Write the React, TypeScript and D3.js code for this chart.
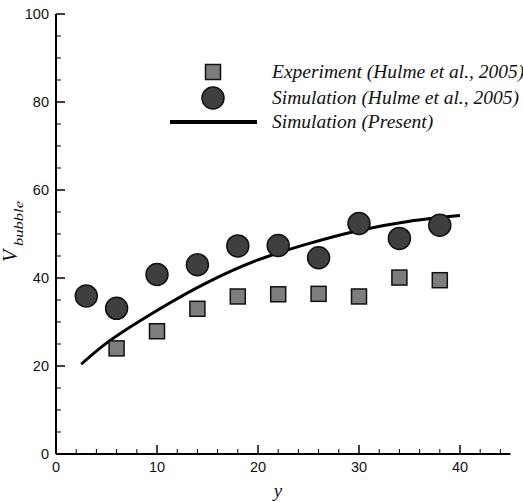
import React from "react";
import * as d3 from "d3";

const expX = [6, 10, 14, 18, 22, 26, 30, 34, 38];
const expY = [24.0, 27.9, 33.0, 35.8, 36.3, 36.4, 35.8, 40.1, 39.5];

const simX = [3, 6, 10, 14, 18, 22, 26, 30, 34, 38];
const simY = [35.9, 33.1, 40.8, 43.0, 47.3, 47.4, 44.6, 52.4, 49.0, 52.0];

const presX = [2.5, 5, 10, 15, 20, 25, 30, 35, 40];
const presY = [20.4, 25.2, 32.6, 39.0, 44.1, 47.8, 50.8, 52.9, 54.2];

const xMajor = [0, 10, 20, 30, 40];
const yMajor = [0, 20, 40, 60, 80, 100];

const legendLabels = [
  "Experiment (Hulme et al., 2005)",
  "Simulation (Hulme et al., 2005)",
  "Simulation (Present)",
];

export default function App() {
  const W = 523, H = 502;
  const x = d3.scaleLinear().domain([0, 45]).range([56, 510.5]);
  const y = d3.scaleLinear().domain([0, 100]).range([454, 14]);

  const xMinor = d3.range(0, 45, 2).filter((v) => v % 10 !== 0);
  const yMinor = d3.range(0, 100, 5).filter((v) => v % 20 !== 0);

  const linePts: [number, number][] = presX.map((v, i) => [v, presY[i]]);
  const line = d3
    .line<[number, number]>()
    .x((d) => x(d[0]))
    .y((d) => y(d[1]))
    .curve(d3.curveCatmullRom.alpha(0.5));

  const sq = 15;
  const r = 11;
  const tickFont = "Liberation Sans, Arial, sans-serif";
  const serif = "Liberation Serif, Times New Roman, serif";

  const legX = 213;
  const legTextX = 272;
  const legY = [72, 98, 122];

  return (
    <svg
      width={W}
      height={H}
      style={{ position: "absolute", left: 0, top: 0, background: "#fff" }}
    >
      <rect x={0} y={0} width={W} height={H} fill="#fff" />
      {/* axes */}
      <line x1={x(0)} x2={x(45)} y1={y(0)} y2={y(0)} stroke="#000" strokeWidth={2} />
      <line x1={x(0)} x2={x(0)} y1={y(0)} y2={y(100)} stroke="#000" strokeWidth={2} />
      {xMajor.map((v) => (
        <g key={"xm" + v}>
          <line x1={x(v)} x2={x(v)} y1={y(0)} y2={y(0) - 9} stroke="#000" strokeWidth={1.5} />
          <text x={x(v)} y={472} textAnchor="middle" fontFamily={tickFont} fontSize={14.5} fill="#111">
            {v}
          </text>
        </g>
      ))}
      {xMinor.map((v) => (
        <line key={"xn" + v} x1={x(v)} x2={x(v)} y1={y(0)} y2={y(0) - 5} stroke="#000" strokeWidth={1} />
      ))}
      {yMajor.map((v) => (
        <g key={"ym" + v}>
          <line x1={x(0)} x2={x(0) + 9} y1={y(v)} y2={y(v)} stroke="#000" strokeWidth={1.5} />
          <text x={49} y={y(v) + 5} textAnchor="end" fontFamily={tickFont} fontSize={14.5} fill="#111">
            {v}
          </text>
        </g>
      ))}
      {yMinor.map((v) => (
        <line key={"yn" + v} x1={x(0)} x2={x(0) + 5} y1={y(v)} y2={y(v)} stroke="#000" strokeWidth={1} />
      ))}

      {/* axis titles */}
      <text x={278} y={497} textAnchor="middle" fontFamily={serif} fontStyle="italic" fontSize={19} fill="#111">
        y
      </text>
      <text
        transform="translate(17,262) rotate(-90)"
        fontFamily={serif}
        fontStyle="italic"
        fontSize={20}
        fill="#111"
      >
        V
      </text>
      <text
        transform="translate(22.5,246) rotate(-90)"
        fontFamily={serif}
        fontStyle="italic"
        fontSize={12}
        fill="#111"
        textLength={45}
        lengthAdjust="spacingAndGlyphs"
      >
        bubble
      </text>

      {/* present simulation line */}
      <path d={line(linePts) || ""} fill="none" stroke="#000" strokeWidth={3} />

      {/* experiment squares */}
      {expX.map((v, i) => (
        <rect
          key={"s" + i}
          x={x(v) - sq / 2}
          y={y(expY[i]) - sq / 2}
          width={sq}
          height={sq}
          fill="#7d7d7d"
          stroke="#111"
          strokeWidth={1.5}
        />
      ))}
      {/* simulation circles */}
      {simX.map((v, i) => (
        <circle key={"c" + i} cx={x(v)} cy={y(simY[i])} r={r} fill="#3f3f3f" stroke="#111" strokeWidth={1.5} />
      ))}

      {/* legend */}
      <rect x={legX - sq / 2} y={legY[0] - sq / 2} width={sq} height={sq} fill="#7d7d7d" stroke="#111" strokeWidth={1.5} />
      <circle cx={legX} cy={legY[1]} r={r} fill="#3f3f3f" stroke="#111" strokeWidth={1.5} />
      <line x1={170} x2={257} y1={legY[2]} y2={legY[2]} stroke="#000" strokeWidth={4} />
      {legendLabels.map((t, i) => (
        <text
          key={"l" + i}
          x={legTextX}
          y={legY[i] + 6}
          fontFamily={serif}
          fontStyle="italic"
          fontSize={19.5}
          fill="#111"
        >
          {t}
        </text>
      ))}
    </svg>
  );
}
